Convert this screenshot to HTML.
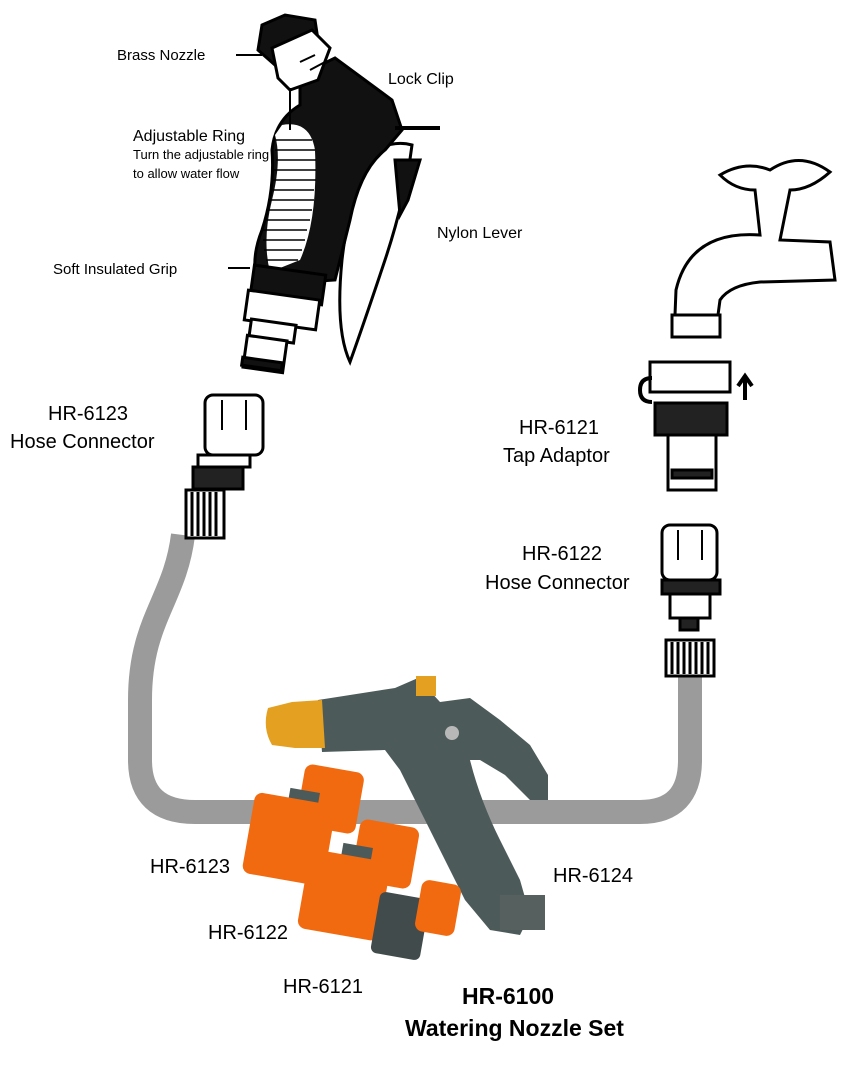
<!DOCTYPE html>
<html><head><meta charset="utf-8"><style>
html,body{margin:0;padding:0;background:#fff;}
svg{display:block;}
text{font-family:"Liberation Sans",sans-serif;fill:#000;}
</style></head><body>
<svg width="856" height="1074" viewBox="0 0 856 1074" xmlns="http://www.w3.org/2000/svg">
<!-- hose -->
<path d="M183,535 C175,600 140,620 140,700 L140,760 Q140,812 195,812 L640,812 Q690,812 690,760 L690,675" fill="none" stroke="#9b9b9b" stroke-width="24"/>
<!-- left connector -->
<g stroke="#000" stroke-width="3" fill="#fff">
<rect x="205" y="395" width="58" height="60" rx="8"/>
<path d="M222,400 v30 M246,400 v30" stroke-width="2"/>
<rect x="198" y="455" width="52" height="12"/>
<rect x="193" y="467" width="50" height="22" fill="#222"/>
<rect x="186" y="490" width="38" height="48" fill="#fff"/>
<path d="M192,492 v44 M198,492 v44 M204,492 v44 M210,492 v44 M216,492 v44"/>
</g>
<!-- right connector -->
<g stroke="#000" stroke-width="3" fill="#fff">
<rect x="662" y="525" width="55" height="55" rx="8"/>
<path d="M678,530 v30 M702,530 v30" stroke-width="2"/>
<rect x="662" y="580" width="58" height="14" fill="#222"/>
<rect x="670" y="594" width="40" height="24"/>
<rect x="680" y="618" width="18" height="12" fill="#222"/>
<rect x="666" y="640" width="48" height="36"/>
<path d="M672,642 v32 M678,642 v32 M684,642 v32 M690,642 v32 M696,642 v32 M702,642 v32 M708,642 v32"/>
</g>
<!-- tap -->
<g stroke="#000" stroke-width="3" fill="#fff">
<path d="M720,175 Q745,160 770,170 Q800,150 830,172 Q810,190 790,190 L780,240 L830,242 L835,280 L760,282 Q730,285 720,300 L718,315 L675,315 L676,290 Q690,230 760,235 L755,190 Q735,190 720,175 Z"/>
<rect x="672" y="315" width="48" height="22"/>
<rect x="650" y="362" width="80" height="30"/>
<rect x="655" y="403" width="72" height="32" fill="#222"/>
<rect x="668" y="435" width="48" height="55"/>
<rect x="672" y="470" width="40" height="8" fill="#222"/>
</g>
<path d="M652,378 q-12,0 -12,12 q0,12 12,12" fill="none" stroke="#000" stroke-width="4"/>
<path d="M745,400 v-22 M738,386 l7,-10 l7,10" stroke="#000" stroke-width="4" fill="none"/>
<!-- spray gun line art -->
<g stroke="#000" stroke-width="3">
<path d="M375,150 Q395,140 412,145 Q405,200 385,260 Q365,320 350,362 Q335,330 342,260 Q350,190 375,150 Z" fill="#fff"/>
<path d="M395,160 L420,160 L408,200 L400,215 Z" fill="#111"/>
<path d="M300,75 L335,58 L392,100 L402,130 L385,150 Q360,170 350,220 L335,280 L258,285 Q250,260 262,230 Q275,190 272,150 Q275,120 300,105 Z" fill="#111"/>
<path d="M282,125 Q310,120 315,150 Q318,220 300,260 L270,272 Q262,240 272,200 Q282,160 275,135 Z" fill="#fff" stroke="none"/>
<path d="M276,140 h36 M275,150 h40 M276,160 h40 M274,170 h42 M272,180 h44 M270,190 h44 M268,200 h46 M266,210 h46 M264,220 h46 M263,230 h44 M263,240 h42 M264,250 h38 M266,260 h32" stroke-width="1.5"/>
<path d="M262,25 L285,15 L315,20 L318,40 L275,65 L258,50 Z" fill="#111"/>
<path d="M272,48 L312,30 L330,48 L318,80 L290,90 L278,78 Z" fill="#fff"/>
<path d="M310,70 L325,62 M300,62 L315,55" stroke-width="2"/>
<rect x="252" y="270" width="72" height="30" fill="#111" transform="rotate(8 288 285)"/>
<rect x="246" y="295" width="72" height="30" fill="#fff" transform="rotate(8 282 310)"/>
<rect x="250" y="322" width="45" height="18" fill="#fff" transform="rotate(8 272 331)"/>
<rect x="245" y="338" width="40" height="32" fill="#fff" transform="rotate(8 265 354)"/>
<rect x="242" y="360" width="40" height="8" fill="#111" transform="rotate(8 262 364)"/>
</g>
<path d="M395,128 H440" stroke="#000" stroke-width="4"/>
<path d="M236,55 H262 M290,88 V130 M228,268 H250" stroke="#000" stroke-width="2"/>
<!-- colored products: gun -->
<path d="M318,700 L395,688 L418,678 L440,702 L470,698 L500,720 L530,745 L548,775 L548,800 L530,800 L505,775 L480,760 L470,760 Q480,800 500,840 L520,880 L530,915 L520,935 L490,930 L465,900 Q440,850 420,810 L400,770 L385,750 L322,752 Z" fill="#4d5a5a"/>
<path d="M268,708 L292,702 L322,700 L325,748 L295,748 L272,745 Q262,728 268,708 Z" fill="#e4a020"/>
<rect x="416" y="676" width="20" height="20" fill="#e4a020"/>
<circle cx="452" cy="733" r="7" fill="#b8b8b8"/>
<rect x="500" y="895" width="45" height="35" fill="#55605f"/>
<!-- HR-6123 -->
<rect x="300" y="768" width="60" height="62" rx="8" fill="#f26a10" transform="rotate(10 330 800)"/>
<rect x="285" y="790" width="30" height="60" fill="#4d5a5a" transform="rotate(10 300 820)"/>
<rect x="248" y="798" width="82" height="82" rx="8" fill="#f26a10" transform="rotate(10 288 839)"/>
<!-- HR-6122 -->
<rect x="355" y="823" width="60" height="62" rx="8" fill="#f26a10" transform="rotate(10 385 856)"/>
<rect x="338" y="845" width="30" height="60" fill="#4d5a5a" transform="rotate(10 353 875)"/>
<rect x="303" y="855" width="82" height="80" rx="8" fill="#f26a10" transform="rotate(10 343 895)"/>
<!-- HR-6121 -->
<rect x="375" y="895" width="50" height="62" rx="6" fill="#414b4b" transform="rotate(10 400 926)"/>
<rect x="418" y="882" width="40" height="52" rx="8" fill="#f26a10" transform="rotate(10 438 908)"/>
<!-- text -->
<text x="117" y="60" font-size="15">Brass Nozzle</text>
<text x="388" y="84" font-size="16">Lock Clip</text>
<text x="133" y="141" font-size="16">Adjustable Ring</text>
<text x="133" y="159" font-size="13">Turn the adjustable ring</text>
<text x="133" y="178" font-size="13">to allow water flow</text>
<text x="437" y="238" font-size="16">Nylon Lever</text>
<text x="53" y="274" font-size="15">Soft Insulated Grip</text>
<text x="48" y="420" font-size="20">HR-6123</text>
<text x="10" y="448" font-size="20">Hose Connector</text>
<text x="519" y="434" font-size="20">HR-6121</text>
<text x="503" y="462" font-size="20">Tap Adaptor</text>
<text x="522" y="560" font-size="20">HR-6122</text>
<text x="485" y="589" font-size="20">Hose Connector</text>
<text x="150" y="873" font-size="20">HR-6123</text>
<text x="208" y="939" font-size="20">HR-6122</text>
<text x="283" y="993" font-size="20">HR-6121</text>
<text x="553" y="882" font-size="20">HR-6124</text>
<text x="462" y="1004" font-size="23" font-weight="bold">HR-6100</text>
<text x="405" y="1036" font-size="23" font-weight="bold">Watering Nozzle Set</text>
</svg>
</body></html>
